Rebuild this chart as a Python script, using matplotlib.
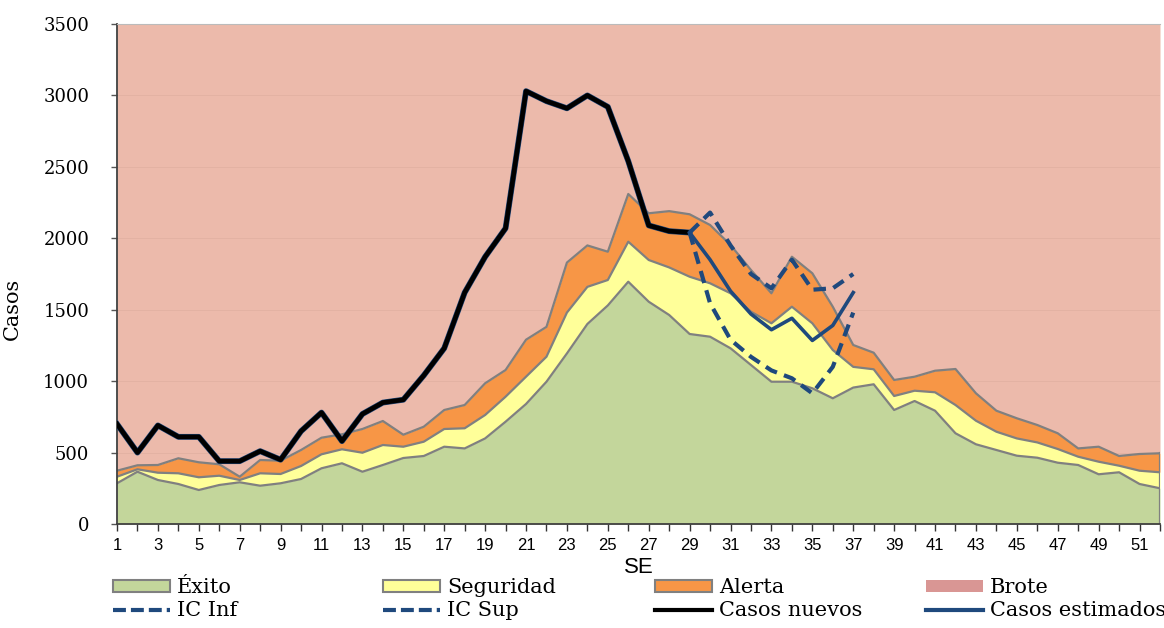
import matplotlib
matplotlib.use("Agg")
import matplotlib.pyplot as plt
import numpy as np
from matplotlib.patches import Patch
from matplotlib.lines import Line2D

weeks = list(range(1, 53))
exito_top = [285, 366, 308, 280, 238, 273, 292, 268, 285, 315, 390, 425, 366, 413, 462, 476,
             541, 529, 599, 716, 840, 996, 1194, 1400, 1530, 1696, 1556, 1463, 1330, 1311, 1230,
             1113, 996, 996, 950, 880, 955, 978, 798, 861, 793, 635, 558, 518, 478, 464, 429,
             413, 348, 362, 280, 250]
seguridad_top = [331, 383, 359, 355, 327, 338, 308, 355, 350, 406, 488, 523, 499, 553, 541, 576,
                 665, 670, 763, 891, 1031, 1171, 1480, 1660, 1708, 1976, 1848, 1796, 1731, 1685,
                 1615, 1486, 1405, 1521, 1405, 1218, 1100, 1083, 896, 933, 922, 833, 723, 646,
                 599, 571, 525, 471, 436, 408, 373, 362]
alerta_top = [373, 411, 413, 460, 432, 418, 331, 448, 443, 518, 604, 628, 665, 721, 625, 681,
              798, 833, 985, 1078, 1290, 1380, 1830, 1950, 1906, 2310, 2175, 2190, 2168, 2093,
              1953, 1778, 1615, 1871, 1755, 1521, 1253, 1199, 1008, 1031, 1073, 1085, 915, 793,
              740, 693, 635, 529, 541, 476, 490, 495]
brote_top = 3500

casos_weeks = list(range(1, 30))
casos_nuevos = [700, 500, 690, 610, 610, 440, 440, 510, 450, 650, 780, 580, 770, 850, 870, 1040,
                1230, 1620, 1870, 2070, 3030, 2960, 2910, 3000, 2920, 2540, 2090, 2050, 2040]

est_weeks = list(range(29, 38))
casos_estimados = [2040, 1850, 1630, 1470, 1360, 1440, 1285, 1390, 1620]
ic_inf = [2040, 1545, 1290, 1170, 1075, 1020, 915, 1100, 1480]
ic_sup = [2040, 2180, 1950, 1750, 1650, 1850, 1640, 1650, 1750]

serif = "DejaVu Serif"
sans = "Liberation Sans"

fig = plt.figure(figsize=(11.64, 6.28), dpi=100)
ax = fig.add_axes([117/1164, 1 - 524/628, (1160 - 117)/1164, (524 - 24)/628])

c_green = "#C3D69B"
c_yellow = "#FFFF99"
c_orange = "#F79646"
c_brote = "#ECBAAB"
c_brote_leg = "#D99694"
c_edge = "#808080"
c_blue = "#1F497D"

ax.fill_between(weeks, alerta_top, brote_top, color=c_brote, lw=0, zorder=0)
for yv in [500, 1000, 1500, 2000, 2500, 3000]:
    ax.axhline(yv, color="#E3B2A3", lw=0.7, zorder=0.5)
ax.fill_between(weeks, seguridad_top, alerta_top, color=c_orange, lw=0, zorder=1)
ax.fill_between(weeks, exito_top, seguridad_top, color=c_yellow, lw=0, zorder=1)
ax.fill_between(weeks, 0, exito_top, color=c_green, lw=0, zorder=1)
for arr in (exito_top, seguridad_top, alerta_top):
    ax.plot(weeks, arr, color=c_edge, lw=1.6, zorder=2)
ax.plot([weeks[-1], weeks[-1]], [0, alerta_top[-1]], color=c_edge, lw=1.6, zorder=2)

ax.plot(casos_weeks, casos_nuevos, color=c_blue, lw=4.2, zorder=3, solid_joinstyle="round")
ax.plot(casos_weeks, casos_nuevos, color="black", lw=3.4, zorder=4, solid_joinstyle="round")
ax.plot(est_weeks, casos_estimados, color=c_blue, lw=2.6, zorder=5)
ax.plot(est_weeks, ic_inf, color=c_blue, lw=3.0, ls=(0, (3, 1.8)), zorder=5)
ax.plot(est_weeks, ic_sup, color=c_blue, lw=3.0, ls=(0, (3, 1.8)), zorder=5)

ax.set_xlim(1, 52)
ax.set_ylim(0, 3500)
ax.set_xticks(weeks)
ax.set_xticklabels([str(w) if w % 2 == 1 else "" for w in weeks], fontfamily=sans, fontsize=12)
ax.set_yticks(range(0, 3501, 500))
ax.set_yticklabels([str(v) for v in range(0, 3501, 500)], fontfamily=serif, fontsize=13)
ax.tick_params(axis="x", direction="out", length=5, width=1, pad=5, color="#333333")
ax.tick_params(axis="y", direction="out", length=4, width=1, pad=16, color="#555555")
for s in ["left", "bottom"]:
    ax.spines[s].set_color("#404040")
    ax.spines[s].set_linewidth(1.3)
ax.spines["top"].set_color("#BBBBBB")
ax.spines["right"].set_visible(False)
ax.set_ylabel("Casos", fontfamily=serif, fontsize=15)
ax.yaxis.set_label_coords(-0.091, 0.43)
ax.set_xlabel("SE", fontfamily=sans, fontsize=16, labelpad=3)

dash = (0, (3.1, 1.2))
cols = [
    [(Patch(facecolor=c_green, edgecolor=c_edge, lw=1.5), "Éxito"),
     (Line2D([], [], color=c_blue, lw=3, ls=dash), "IC Inf")],
    [(Patch(facecolor=c_yellow, edgecolor=c_edge, lw=1.5), "Seguridad"),
     (Line2D([], [], color=c_blue, lw=3, ls=dash), "IC Sup")],
    [(Patch(facecolor=c_orange, edgecolor=c_edge, lw=1.5), "Alerta"),
     (Line2D([], [], color="black", lw=3), "Casos nuevos")],
    [(Patch(facecolor=c_brote_leg, edgecolor=c_brote_leg, lw=0), "Brote"),
     (Line2D([], [], color=c_blue, lw=3), "Casos estimados")],
]
xs = [113, 383, 655, 926]
for x0, col in zip(xs, cols):
    h = [c[0] for c in col]
    l = [c[1] for c in col]
    fig.legend(h, l, loc="upper left", bbox_to_anchor=(x0/1164, 1 - 578/628),
               frameon=False, prop={"family": serif, "size": 15}, handlelength=2.75,
               handleheight=0.5, handletextpad=0.33, labelspacing=0.2, borderpad=0,
               borderaxespad=0)

fig.savefig("out.png", dpi=100)
